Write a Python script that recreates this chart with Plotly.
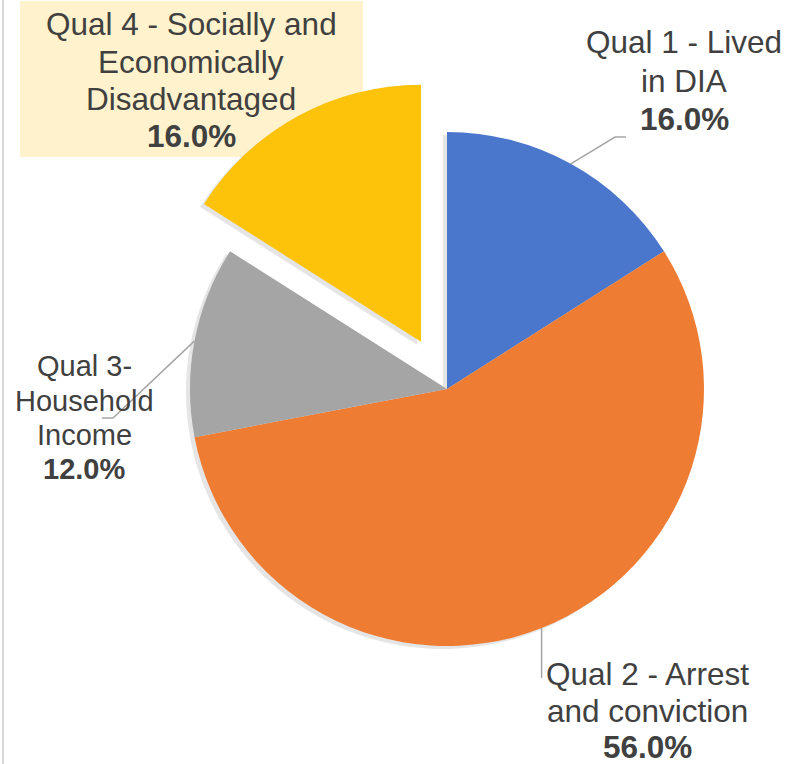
import math
import plotly.graph_objects as go

# ---- data ----
categories = ["Qual 1 - Lived in DIA", "Qual 2 - Arrest and conviction",
              "Qual 3- Household Income", "Qual 4 - Socially and Economically Disadvantaged"]
values = [16.0, 56.0, 12.0, 16.0]
label_lines = [["Qual 1 - Lived", "in DIA"],
               ["Qual 2 - Arrest", "and conviction"],
               ["Qual 3-", "Household", "Income"],
               ["Qual 4 - Socially and", "Economically", "Disadvantaged"]]
colors = ["#4A77CB", "#EE7D33", "#A5A5A5", "#FDC20A"]
pulls = [0, 0, 0, 0.21]

# ---- layout constants (pixels) ----
W, H = 787, 764
CX, CY, R = 447, 389, 257
BOX = R * (1 + max(pulls))  # half size of pie domain


def px(x):
    return x / W


def py(y):
    return 1 - y / H


def domain(dx=0, dy=0):
    return dict(x=[px(CX - BOX + dx), px(CX + BOX + dx)],
                y=[py(CY + BOX + dy), py(CY - BOX + dy)])


fig = go.Figure()
# soft shadow
fig.add_trace(go.Pie(values=values, labels=categories, sort=False, direction="clockwise",
                     rotation=0, pull=pulls, textinfo="none", hoverinfo="skip",
                     marker=dict(colors=["rgba(0,0,0,0.10)"] * 4, line=dict(width=0)),
                     domain=domain(-4, 3), showlegend=False))
fig.add_trace(go.Pie(values=values, labels=categories, sort=False, direction="clockwise",
                     rotation=0, pull=pulls, textinfo="none",
                     marker=dict(colors=colors, line=dict(width=0)),
                     domain=domain(), showlegend=False))

# ---- leader lines from slice mid angles ----
total = sum(values)
cum = 0
mids = []
for v in values:
    a = (cum + v / 2) / total * 2 * math.pi
    mids.append((CX + R * math.sin(a), CY - R * math.cos(a)))
    cum += v

leaders = {0: [(615, 137), (626, 137)],
           1: [(None, 678)],
           2: [(113, 418), (102, 418)]}
shapes = []
for i, pts in leaders.items():
    x0, y0 = mids[i]
    path = f"M {px(x0)},{py(y0)}"
    for (x, y) in pts:
        if x is None:
            x = x0
        path += f" L {px(x)},{py(y)}"
    shapes.append(dict(type="path", path=path, xref="paper", yref="paper",
                       line=dict(color="#A6A6A6", width=1.5)))

# Qual 4 label background
shapes.append(dict(type="rect", xref="paper", yref="paper", layer="below",
                   x0=px(20), x1=px(363), y0=py(157), y1=py(1),
                   fillcolor="#FFF2CC", line=dict(width=0)))
# left border
shapes.append(dict(type="line", xref="paper", yref="paper",
                   x0=px(3), x1=px(3), y0=0, y1=1,
                   line=dict(color="#D9D9D9", width=2)))

# ---- data labels ----
label_pos = {0: (684, [53, 92, 130], 31.5),
             1: (647, [685, 722, 758], 31.5),
             2: (84, [376, 411, 445, 479], 29),
             3: (191, [35, 73, 110, 147], 31.5)}
annotations = []
for i, (xc, baselines, fs) in label_pos.items():
    lines = label_lines[i] + [f"<b>{values[i] / total * 100:.1f}%</b>"]
    for text, b in zip(lines, baselines):
        annotations.append(dict(text=text, x=px(xc), y=py(b - 0.35 * fs),
                                xref="paper", yref="paper", xanchor="center",
                                yanchor="middle", showarrow=False,
                                font=dict(size=fs, color="#404040",
                                          family="Liberation Sans, Arial, sans-serif")))

fig.update_layout(width=W, height=H, margin=dict(l=0, r=0, t=0, b=0),
                  paper_bgcolor="white", plot_bgcolor="white",
                  shapes=shapes, annotations=annotations, showlegend=False)

fig.write_html("out.html", config={"displayModeBar": False},
               post_script="document.body.style.margin='0';document.body.style.overflow='hidden';")
